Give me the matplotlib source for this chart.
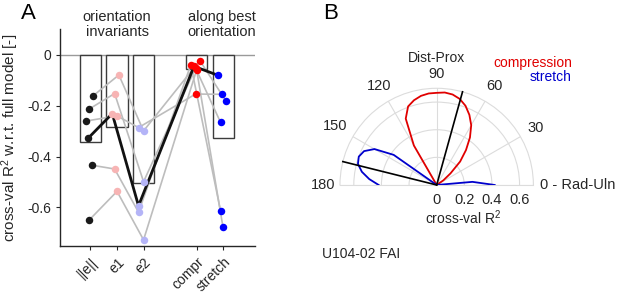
import numpy as np
import matplotlib
matplotlib.use("Agg")
import matplotlib.pyplot as plt

# ==========================================
# DATA
# ==========================================

categories = ["||e||", "e1", "e2", "compr", "stretch"]
cat_pos = [1, 2, 3, 5, 6]
bar_heights = [-0.341, -0.282, -0.505, -0.056, -0.328]

# one row per subject, one column per category
subj_1 = [-0.160, -0.079, -0.299, -0.022, -0.182]
subj_2 = [-0.213, -0.152, -0.499, -0.052, -0.265]
subj_3 = [-0.260, -0.240, -0.286, -0.154, -0.155]
subj_4 = [-0.328, -0.231, -0.594, -0.045, -0.080]   # highlighted subject
subj_5 = [-0.434, -0.449, -0.619, -0.039, -0.613]
subj_6 = [-0.650, -0.537, -0.728, -0.059, -0.676]
subjects = [subj_1, subj_2, subj_3, subj_4, subj_5, subj_6]
highlight = 3

# horizontal jitter of each dot
jit_1 = [0.11, 0.07, 0.00, 0.12, 0.11]
jit_2 = [-0.05, -0.09, 0.00, -0.04, -0.10]
jit_3 = [-0.16, 0.00, -0.19, -0.04, -0.04]
jit_4 = [-0.09, -0.18, -0.19, -0.10, -0.20]
jit_5 = [0.05, -0.09, -0.19, -0.22, -0.10]
jit_6 = [-0.05, 0.00, 0.00, 0.00, -0.01]
jitters = [jit_1, jit_2, jit_3, jit_4, jit_5, jit_6]

dot_colors = ["#1a1a1a", "#f7b4b4", "#b4b4f7", "#ff0000", "#0000ff"]

# polar panel: cross-val R^2 vs orientation (deg)
theta_deg = [0, 5, 10, 15, 20, 25, 30, 35, 40, 45, 50, 55, 60, 65, 70, 75,
             80, 85, 90, 95, 100, 105, 110, 115, 120, 125, 130, 135, 140,
             145, 150, 155, 160, 165, 170, 175, 180]
r_compression = [0, 0, 0, 0, 0, 0, 0, 0.06, 0.13, 0.24, 0.33, 0.42, 0.50,
                 0.56, 0.61, 0.645, 0.665, 0.672, 0.667, 0.665, 0.655, 0.635,
                 0.605, 0.53, 0.33, 0, 0, 0, 0, 0, 0, 0, 0, 0, 0, 0, 0]
r_stretch = [0.42, 0.26, 0, 0, 0, 0, 0, 0, 0, 0, 0, 0, 0, 0, 0, 0, 0, 0,
             0, 0, 0, 0, 0, 0, 0, 0, 0, 0, 0, 0.38, 0.52, 0.58, 0.60, 0.59,
             0.55, 0.49, 0.42]
best_compression_deg = 74.5
best_stretch_deg = 166.0

# ==========================================
# STYLE
# ==========================================

plt.rcParams["font.family"] = ["Liberation Sans", "DejaVu Sans"]
plt.rcParams["mathtext.default"] = "regular"
plt.rcParams["font.size"] = 10
txt = "#262626"

fig = plt.figure(figsize=(6.17, 2.96), dpi=100)

# ==========================================
# PANEL A
# ==========================================

ax = fig.add_axes([0.0972, 0.169, 0.3161, 0.733])

ax.axhline(0, color="#9a9a9a", lw=1.0, zorder=1)

ax.bar(cat_pos, bar_heights, width=0.8, facecolor="white",
       edgecolor="#3c3c3c", lw=1.0, zorder=2)

for i, (vals, jit) in enumerate(zip(subjects, jitters)):
    xs = np.array(cat_pos) + np.array(jit)
    if i == highlight:
        continue
    ax.plot(xs, vals, color="#bdbdbd", lw=1.2, zorder=3)

xs_h = np.array(cat_pos) + np.array(jitters[highlight])
ax.plot(xs_h, subjects[highlight], color="#111111", lw=2.0, zorder=4)

for j in range(len(categories)):
    xs = [cat_pos[j] + jit[j] for jit in jitters]
    ys = [vals[j] for vals in subjects]
    ax.plot(xs, ys, "o", ms=5.4, color=dot_colors[j], mec="none", zorder=5)

ax.set_xlim(-0.15, 7.2)
ax.set_ylim(-0.752, 0.102)
ax.set_yticks([0, -0.2, -0.4, -0.6])
ax.set_yticklabels(["0", "-0.2", "-0.4", "-0.6"])
ax.set_xticks(cat_pos)
ax.set_xticklabels(categories, rotation=45, ha="right", va="top",
                   rotation_mode="anchor")
ax.tick_params(direction="out", length=3, width=0.8, colors=txt,
               labelsize=10)
for s in ["top", "right"]:
    ax.spines[s].set_visible(False)
for s in ["left", "bottom"]:
    ax.spines[s].set_color(txt)
    ax.spines[s].set_linewidth(1.0)

ax.set_ylabel("cross-val R$^2$ w.r.t. full model [-]", fontsize=11,
              color=txt, labelpad=4)

ax.text(2.0, 0.064, "orientation\ninvariants", ha="center", va="bottom",
        linespacing=1.05, color=txt, fontsize=10.5)
ax.text(5.95, 0.064, "along best\norientation", ha="center", va="bottom",
        linespacing=1.05, color=txt, fontsize=10.5)

fig.text(0.034, 0.99, "A", fontsize=16, va="top", ha="left", color="black")

# ==========================================
# PANEL B (half polar)
# ==========================================

# square box: the half disk sits in its middle half
pax = fig.add_axes([0.551, 0.2117, 0.3135, 0.6534], projection="polar")
pax.set_thetamin(0)
pax.set_thetamax(180)
pax.set_rlim(0, 0.7)
pax.set_rticks([0.2, 0.4, 0.6])
pax.set_yticklabels([])
pax.set_xticks(np.deg2rad(np.arange(0, 181, 30)))
pax.set_xticklabels([])
pax.grid(True, color="#dcdcdc", lw=0.8)
for sp in pax.spines.values():
    sp.set_color("#dcdcdc")
    sp.set_linewidth(0.8)
pax.tick_params(length=0)

th = np.deg2rad(theta_deg)
pax.plot(th, r_compression, color="#e00000", lw=1.3, zorder=3)
pax.plot(th, r_stretch, color="#0000cc", lw=1.3, zorder=3)
for a in [best_compression_deg, best_stretch_deg]:
    pax.plot([np.deg2rad(a), np.deg2rad(a)], [0, 0.7], color="black",
             lw=1.2, zorder=4, clip_on=False)

for a, rr in zip([30, 60, 90, 120, 150], [0.83, 0.83, 0.80, 0.83, 0.85]):
    pax.text(np.deg2rad(a), rr, str(a), ha="center", va="center",
             color=txt, fontsize=10.5)
pax.text(0, 0.745, "0 - Rad-Uln", ha="left", va="center", color=txt,
         fontsize=10.5)
pax.text(np.pi, 0.735, "180", ha="right", va="center", color=txt,
         fontsize=10.5)
pax.text(np.deg2rad(90), 0.92, "Dist-Prox", ha="center", va="center",
         color=txt, fontsize=10)

for rv, lab in zip([0, 0.2, 0.4, 0.6], ["0", "0.2", "0.4", "0.6"]):
    pax.annotate(lab, xy=(0, rv), xytext=(0, -6), textcoords="offset points",
                 ha="center", va="top", color=txt, fontsize=10.5)
pax.annotate("cross-val R$^2$", xy=(0, 0.19), xytext=(0, -17),
             textcoords="offset points", ha="center", va="top", color=txt,
             fontsize=10)

fig.text(0.927, 0.788, "compression", color="#e00000", ha="right",
         va="center", fontsize=10)
fig.text(0.927, 0.741, "stretch", color="#0000cc", ha="right",
         va="center", fontsize=10)

fig.text(0.5235, 0.99, "B", fontsize=16, va="top", ha="left", color="black")
fig.text(0.522, 0.141, "U104-02 FAI", fontsize=10, va="center", ha="left",
         color=txt)

fig.savefig("out.png", dpi=100)
